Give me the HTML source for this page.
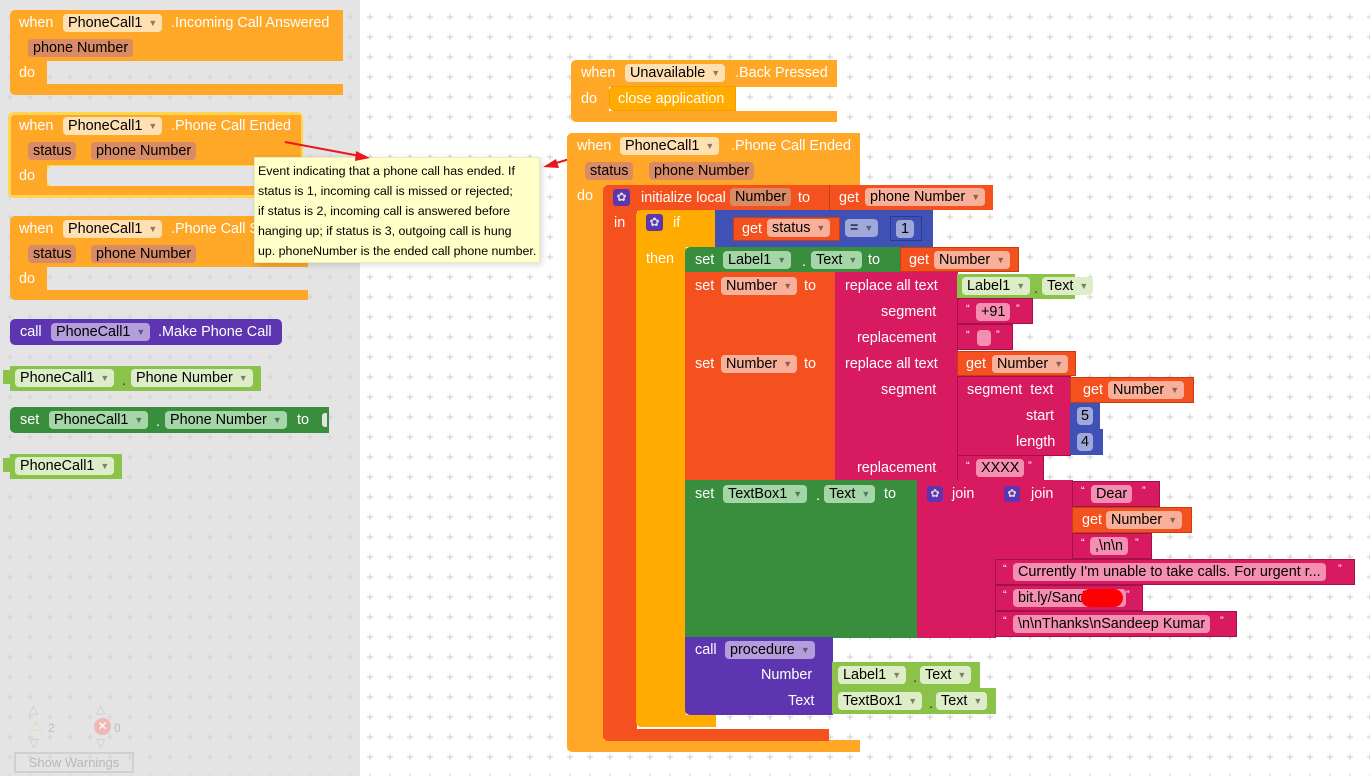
<!DOCTYPE html>
<html><head><meta charset="utf-8">
<style>
*{margin:0;padding:0}
body{width:1370px;height:776px;overflow:hidden;position:relative;background:#fff;font-family:"Liberation Sans",sans-serif}
.b{position:absolute;box-sizing:border-box}
.t{position:absolute;color:#fff;font-size:14.4px;line-height:18px;white-space:nowrap}
.p{position:absolute;height:18px;line-height:18px;border-radius:4px;padding:0 5px;color:#000;font-size:14.4px;white-space:nowrap}
.a{font-size:9px;opacity:.45;margin-left:6px;vertical-align:1px}
.q{position:absolute;color:#fff;font-size:11px}
</style></head><body>
<svg width="1370" height="776" style="position:absolute;left:0;top:0">
<defs>
<pattern id="g" x="7" y="14" width="20" height="20" patternUnits="userSpaceOnUse"><path d="M-3 0H3M0 -3V3" stroke="#ccc" stroke-width="1" transform="translate(3,3)"/></pattern>
<pattern id="g2" x="7" y="14" width="20" height="20" patternUnits="userSpaceOnUse"><path d="M-3 0H3M0 -3V3" stroke="#d2d2d2" stroke-width="1" transform="translate(3,3)"/></pattern>
</defs>
<rect width="1370" height="776" fill="url(#g)"/>
<rect width="360" height="776" fill="#e4e4e4"/>
<rect width="360" height="776" fill="url(#g2)"/>
</svg>

<!-- LEFT PANEL -->
<div class="b" style="left:10px;top:10px;width:333px;height:51px;background:#ffa726;border-radius:5px 0 0 0"></div>
<div class="b" style="left:10px;top:60px;width:37px;height:25px;background:#ffa726"></div>
<div class="b" style="left:10px;top:84px;width:333px;height:11px;background:#ffa726;border-radius:0 0 0 5px"></div>
<div class="t" style="left:19px;top:14px">when</div>
<div class="p" style="left:63px;top:14px;background:#ffe0b2">PhoneCall1<span class="a">▼</span></div>
<div class="t" style="left:171px;top:14px">.Incoming Call Answered</div>
<div class="p" style="left:28px;top:39px;background:#d98b66">phone Number</div>
<div class="t" style="left:19px;top:64px">do</div>

<div class="b" style="left:8px;top:112px;width:295px;height:86px;border:3px solid #ffd54f;border-radius:6px;background:#ffd54f"></div>
<div class="b" style="left:11px;top:115px;width:290px;height:50px;background:#ffa726;border-radius:4px 0 0 0"></div>
<div class="b" style="left:11px;top:164px;width:36px;height:24px;background:#ffa726"></div>
<div class="b" style="left:47px;top:166px;width:254px;height:20px;background:#e4e4e4;border-radius:6px 0 0 6px"></div>
<div class="b" style="left:11px;top:186px;width:290px;height:9px;background:#ffa726"></div>
<div class="t" style="left:19px;top:117px">when</div>
<div class="p" style="left:63px;top:117px;background:#ffe0b2">PhoneCall1<span class="a">▼</span></div>
<div class="t" style="left:171px;top:117px">.Phone Call Ended</div>
<div class="p" style="left:28px;top:142px;background:#d98b66">status</div>
<div class="p" style="left:91px;top:142px;background:#d98b66">phone Number</div>
<div class="t" style="left:19px;top:167px">do</div>

<div class="b" style="left:10px;top:216px;width:298px;height:51px;background:#ffa726;border-radius:5px 0 0 0"></div>
<div class="b" style="left:10px;top:266px;width:37px;height:25px;background:#ffa726"></div>
<div class="b" style="left:10px;top:290px;width:298px;height:10px;background:#ffa726;border-radius:0 0 0 5px"></div>
<div class="t" style="left:19px;top:220px">when</div>
<div class="p" style="left:63px;top:220px;background:#ffe0b2">PhoneCall1<span class="a">▼</span></div>
<div class="t" style="left:171px;top:220px">.Phone Call S</div>
<div class="p" style="left:28px;top:245px;background:#d98b66">status</div>
<div class="p" style="left:91px;top:245px;background:#d98b66">phone Number</div>
<div class="t" style="left:19px;top:270px">do</div>

<div class="b" style="left:10px;top:319px;width:272px;height:26px;background:#5e35b1;border-radius:5px"></div>
<div class="t" style="left:20px;top:323px">call</div>
<div class="p" style="left:51px;top:323px;background:#b39ddb">PhoneCall1<span class="a">▼</span></div>
<div class="t" style="left:158px;top:323px">.Make Phone Call</div>
<div class="b" style="left:10px;top:366px;width:251px;height:25px;background:#8bc34a"></div>
<div class="b" style="left:3px;top:370px;width:8px;height:14px;background:#8bc34a"></div>
<div class="p" style="left:15px;top:369px;background:#dcedc8">PhoneCall1<span class="a">▼</span></div>
<div class="t" style="left:122px;top:372px;color:#333">.</div>
<div class="p" style="left:131px;top:369px;background:#dcedc8">Phone Number<span class="a">▼</span></div>
<div class="b" style="left:10px;top:407px;width:319px;height:26px;background:#388e3c;border-radius:5px 0 0 5px"></div>
<div class="t" style="left:20px;top:411px">set</div>
<div class="p" style="left:49px;top:411px;background:#a5d6a7">PhoneCall1<span class="a">▼</span></div>
<div class="t" style="left:156px;top:413px">.</div>
<div class="p" style="left:165px;top:411px;background:#a5d6a7">Phone Number<span class="a">▼</span></div>
<div class="t" style="left:297px;top:411px">to</div>
<div class="b" style="left:322px;top:413px;width:5px;height:14px;background:#e4e4e4;border-radius:3px 0 0 3px"></div>
<div class="b" style="left:10px;top:454px;width:112px;height:25px;background:#8bc34a"></div>
<div class="b" style="left:3px;top:458px;width:8px;height:14px;background:#8bc34a"></div>
<div class="p" style="left:15px;top:457px;background:#dcedc8">PhoneCall1<span class="a">▼</span></div>

<div class="t" style="left:29px;top:700px;color:#c8c8c8;font-size:12px">△</div>
<div class="t" style="left:96px;top:700px;color:#c8c8c8;font-size:12px">△</div>
<div class="t" style="left:29px;top:718px;color:#e3dcaa;font-size:15px">⚠</div>
<div class="t" style="left:48px;top:719px;color:#bbb;font-size:12px">2</div>
<div class="b" style="left:94px;top:718px;width:17px;height:17px;border-radius:50%;background:#f0b7b7;color:#fff;font-size:12px;text-align:center;line-height:17px">✕</div>
<div class="t" style="left:114px;top:719px;color:#bbb;font-size:12px">0</div>
<div class="t" style="left:29px;top:734px;color:#c8c8c8;font-size:12px">▽</div>
<div class="t" style="left:96px;top:734px;color:#c8c8c8;font-size:12px">▽</div>
<div class="b" style="left:14px;top:752px;width:120px;height:21px;border:2px solid #d0d0d0;color:#b8b8b8;font-size:13px;text-align:center;line-height:17px">Show Warnings</div>

<div class="b" style="left:254px;top:157px;width:286px;height:106px;background:#ffffc7;border:1px solid #ebebc0;box-shadow:2px 2px 6px rgba(0,0,0,.15);font-size:12.4px;line-height:20px;padding:3px 0 0 3px;color:#000;white-space:nowrap">Event indicating that a phone call has ended. If<br>status is 1, incoming call is missed or rejected;<br>if status is 2, incoming call is answered before<br>hanging up; if status is 3, outgoing call is hung<br>up. phoneNumber is the ended call phone number.</div>

<svg width="1370" height="776" style="position:absolute;left:0;top:0">
<line x1="285" y1="142" x2="360" y2="156" stroke="#e8191e" stroke-width="2"/>
<polygon points="370,158 356,151 355,161" fill="#e8191e"/>
<line x1="596" y1="151" x2="553" y2="164" stroke="#e8191e" stroke-width="2"/>
<polygon points="543,167 556,159 559,168" fill="#e8191e"/>
</svg>

<div class="b" style="left:571px;top:60px;width:266px;height:27px;background:#ffa726;border-radius:5px 0 0 0"></div>
<div class="b" style="left:571px;top:86px;width:38px;height:26px;background:#ffa726"></div>
<div class="b" style="left:571px;top:111px;width:266px;height:11px;background:#ffa726;border-radius:0 0 0 5px"></div>
<div class="b" style="left:609px;top:86px;width:127px;height:25px;background:#ffab00;border-radius:5px 0 0 5px;border:1px solid #f39c00"></div>
<div class="t" style="left:581px;top:64px">when</div>
<div class="p" style="left:625px;top:64px;background:#ffe0b2">Unavailable<span class="a">▼</span></div>
<div class="t" style="left:735px;top:64px">.Back Pressed</div>
<div class="t" style="left:581px;top:90px">do</div>
<div class="t" style="left:618px;top:90px">close application</div>

<div class="b" style="left:567px;top:133px;width:293px;height:53px;background:#ffa726;border-radius:5px 0 0 0"></div>
<div class="b" style="left:567px;top:185px;width:37px;height:556px;background:#ffa726"></div>
<div class="b" style="left:567px;top:740px;width:293px;height:12px;background:#ffa726;border-radius:0 0 0 5px"></div>
<div class="t" style="left:577px;top:137px">when</div>
<div class="p" style="left:620px;top:137px;background:#ffe0b2">PhoneCall1<span class="a">▼</span></div>
<div class="t" style="left:731px;top:137px">.Phone Call Ended</div>
<div class="p" style="left:585px;top:162px;background:#d98b66">status</div>
<div class="p" style="left:649px;top:162px;background:#d98b66">phone Number</div>
<div class="t" style="left:577px;top:187px">do</div>

<div class="b" style="left:603px;top:185px;width:226px;height:26px;background:#f4511e;border-radius:5px 0 0 0"></div>
<div class="b" style="left:603px;top:210px;width:34px;height:520px;background:#f4511e"></div>
<div class="b" style="left:603px;top:729px;width:226px;height:12px;background:#f4511e;border-radius:0 0 0 5px"></div>
<div class="b" style="left:613px;top:189px;width:17px;height:17px;background:#5e35b1;border-radius:3px;color:#ddd;font-size:12px;text-align:center;line-height:17px">✿</div>
<div class="t" style="left:641px;top:189px">initialize local</div>
<div class="p" style="left:730px;top:188px;background:#d98b66">Number</div>
<div class="t" style="left:798px;top:189px">to</div>
<div class="t" style="left:614px;top:214px">in</div>
<div class="b" style="left:829px;top:185px;width:164px;height:25px;background:#f4511e;border-left:1px solid #c73d12"></div>
<div class="t" style="left:839px;top:189px">get</div>
<div class="p" style="left:865px;top:188px;background:#f9b09a">phone Number<span class="a">▼</span></div>

<div class="b" style="left:636px;top:210px;width:80px;height:37px;background:#ffab00;border-radius:5px 0 0 0"></div>
<div class="b" style="left:636px;top:246px;width:50px;height:470px;background:#ffab00"></div>
<div class="b" style="left:636px;top:715px;width:80px;height:12px;background:#ffab00;border-radius:0 0 0 5px"></div>
<div class="b" style="left:646px;top:214px;width:17px;height:17px;background:#5e35b1;border-radius:3px;color:#ddd;font-size:12px;text-align:center;line-height:17px">✿</div>
<div class="t" style="left:673px;top:214px">if</div>
<div class="t" style="left:646px;top:250px">then</div>
<div class="b" style="left:715px;top:210px;width:218px;height:37px;background:#3f51b5"></div>
<div class="b" style="left:733px;top:217px;width:107px;height:24px;background:#f4511e;border:1px solid #c73d12"></div>
<div class="t" style="left:742px;top:220px">get</div>
<div class="p" style="left:767px;top:219px;background:#f9b09a">status<span class="a">▼</span></div>
<div class="p" style="left:845px;top:219px;background:#9fa8da">=<span class="a">▼</span></div>
<div class="b" style="left:890px;top:216px;width:32px;height:25px;border:1px solid #2c3a8a;background:#3f51b5"></div>
<div class="p" style="left:896px;top:220px;background:#9fa8da">1</div>

<div class="b" style="left:685px;top:247px;width:216px;height:26px;background:#388e3c;border-radius:5px 0 0 0"></div>
<div class="t" style="left:695px;top:251px">set</div>
<div class="p" style="left:723px;top:251px;background:#a5d6a7">Label1<span class="a">▼</span></div>
<div class="t" style="left:802px;top:253px">.</div>
<div class="p" style="left:811px;top:251px;background:#a5d6a7">Text<span class="a">▼</span></div>
<div class="t" style="left:868px;top:251px">to</div>
<div class="b" style="left:900px;top:247px;width:119px;height:25px;background:#f4511e;border:1px solid #c73d12"></div>
<div class="t" style="left:909px;top:251px">get</div>
<div class="p" style="left:934px;top:251px;background:#f9b09a">Number<span class="a">▼</span></div>

<div class="b" style="left:685px;top:272px;width:151px;height:79px;background:#f4511e;border-bottom:1px solid #c73d12"></div>
<div class="t" style="left:695px;top:277px">set</div>
<div class="p" style="left:721px;top:277px;background:#f9b09a">Number<span class="a">▼</span></div>
<div class="t" style="left:804px;top:277px">to</div>
<div class="b" style="left:835px;top:272px;width:123px;height:79px;background:#d81b60;border-bottom:1px solid #a3104a"></div>
<div class="t" style="left:845px;top:277px">replace all text</div>
<div class="t" style="left:881px;top:303px">segment</div>
<div class="t" style="left:857px;top:329px">replacement</div>
<div class="b" style="left:957px;top:274px;width:118px;height:25px;background:#8bc34a"></div>
<div class="p" style="left:962px;top:277px;background:#dcedc8">Label1<span class="a">▼</span></div>
<div class="t" style="left:1034px;top:280px;color:#333">.</div>
<div class="p" style="left:1042px;top:277px;background:#dcedc8">Text<span class="a">▼</span></div>
<div class="b" style="left:957px;top:298px;width:76px;height:26px;background:#d81b60;border:1px solid #a3104a"></div>
<div class="q" style="left:966px;top:303px">“</div>
<div class="p" style="left:976px;top:303px;background:#f48fb1">+91</div>
<div class="q" style="left:1016px;top:303px">”</div>
<div class="b" style="left:957px;top:324px;width:56px;height:26px;background:#d81b60;border:1px solid #a3104a"></div>
<div class="q" style="left:966px;top:329px">“</div>
<div class="b" style="left:977px;top:330px;width:14px;height:16px;background:#f48fb1;border-radius:4px"></div>
<div class="q" style="left:996px;top:329px">”</div>

<div class="b" style="left:685px;top:350px;width:151px;height:131px;background:#f4511e"></div>
<div class="t" style="left:695px;top:355px">set</div>
<div class="p" style="left:721px;top:355px;background:#f9b09a">Number<span class="a">▼</span></div>
<div class="t" style="left:804px;top:355px">to</div>
<div class="b" style="left:835px;top:350px;width:123px;height:131px;background:#d81b60"></div>
<div class="t" style="left:845px;top:355px">replace all text</div>
<div class="t" style="left:881px;top:381px">segment</div>
<div class="t" style="left:857px;top:459px">replacement</div>
<div class="b" style="left:957px;top:351px;width:119px;height:25px;background:#f4511e;border:1px solid #c73d12"></div>
<div class="t" style="left:966px;top:355px">get</div>
<div class="p" style="left:992px;top:355px;background:#f9b09a">Number<span class="a">▼</span></div>
<div class="b" style="left:957px;top:376px;width:114px;height:80px;background:#d81b60;border:1px solid #a3104a"></div>
<div class="t" style="left:967px;top:381px">segment&nbsp;&nbsp;text</div>
<div class="t" style="left:1026px;top:407px">start</div>
<div class="t" style="left:1016px;top:433px">length</div>
<div class="b" style="left:1070px;top:377px;width:124px;height:26px;background:#f4511e;border:1px solid #c73d12"></div>
<div class="t" style="left:1083px;top:381px">get</div>
<div class="p" style="left:1108px;top:381px;background:#f9b09a">Number<span class="a">▼</span></div>
<div class="b" style="left:1070px;top:403px;width:30px;height:26px;background:#3f51b5"></div>
<div class="p" style="left:1077px;top:407px;background:#9fa8da;padding:0 4px">5</div>
<div class="b" style="left:1070px;top:429px;width:33px;height:26px;background:#3f51b5"></div>
<div class="p" style="left:1077px;top:433px;background:#9fa8da;padding:0 4px">4</div>
<div class="b" style="left:957px;top:455px;width:87px;height:26px;background:#d81b60;border:1px solid #a3104a"></div>
<div class="q" style="left:966px;top:460px">“</div>
<div class="p" style="left:976px;top:459px;background:#f48fb1">XXXX</div>
<div class="q" style="left:1028px;top:460px">”</div>

<div class="b" style="left:685px;top:480px;width:233px;height:158px;background:#388e3c"></div>
<div class="t" style="left:695px;top:485px">set</div>
<div class="p" style="left:723px;top:485px;background:#a5d6a7">TextBox1<span class="a">▼</span></div>
<div class="t" style="left:816px;top:487px">.</div>
<div class="p" style="left:824px;top:485px;background:#a5d6a7">Text<span class="a">▼</span></div>
<div class="t" style="left:884px;top:485px">to</div>
<div class="b" style="left:917px;top:480px;width:79px;height:158px;background:#d81b60;border-right:1px solid #a3104a"></div>
<div class="b" style="left:927px;top:486px;width:16px;height:16px;background:#5e35b1;border-radius:3px;color:#ddd;font-size:11px;text-align:center;line-height:16px">✿</div>
<div class="t" style="left:952px;top:485px">join</div>
<div class="b" style="left:995px;top:480px;width:78px;height:80px;background:#d81b60;border-right:1px solid #a3104a"></div>
<div class="b" style="left:1004px;top:486px;width:16px;height:16px;background:#5e35b1;border-radius:3px;color:#ddd;font-size:11px;text-align:center;line-height:16px">✿</div>
<div class="t" style="left:1031px;top:485px">join</div>
<div class="b" style="left:1072px;top:481px;width:88px;height:26px;background:#d81b60;border:1px solid #a3104a"></div>
<div class="q" style="left:1081px;top:485px">“</div>
<div class="p" style="left:1091px;top:485px;background:#f48fb1">Dear</div>
<div class="q" style="left:1142px;top:485px">”</div>
<div class="b" style="left:1072px;top:507px;width:120px;height:26px;background:#f4511e;border:1px solid #c73d12"></div>
<div class="t" style="left:1082px;top:511px">get</div>
<div class="p" style="left:1106px;top:511px;background:#f9b09a">Number<span class="a">▼</span></div>
<div class="b" style="left:1072px;top:533px;width:80px;height:26px;background:#d81b60;border:1px solid #a3104a"></div>
<div class="q" style="left:1081px;top:537px">“</div>
<div class="p" style="left:1090px;top:537px;background:#f48fb1">,\n\n</div>
<div class="q" style="left:1135px;top:537px">”</div>
<div class="b" style="left:995px;top:559px;width:360px;height:26px;background:#d81b60;border:1px solid #a3104a"></div>
<div class="q" style="left:1003px;top:563px">“</div>
<div class="p" style="left:1013px;top:563px;background:#f48fb1">Currently I'm unable to take calls. For urgent r...</div>
<div class="q" style="left:1338px;top:563px">”</div>
<div class="b" style="left:995px;top:585px;width:148px;height:26px;background:#d81b60;border:1px solid #a3104a"></div>
<div class="q" style="left:1003px;top:589px">“</div>
<div class="p" style="left:1013px;top:589px;background:#f48fb1">bit.ly/Sand&nbsp;&nbsp;&nbsp;&nbsp;&nbsp;&nbsp;&nbsp;&nbsp;&nbsp;</div>
<div class="b" style="left:1081px;top:589px;width:42px;height:18px;background:#ff0000;border-radius:9px"></div>
<div class="q" style="left:1126px;top:589px">”</div>
<div class="b" style="left:995px;top:611px;width:242px;height:26px;background:#d81b60;border:1px solid #a3104a"></div>
<div class="q" style="left:1003px;top:615px">“</div>
<div class="p" style="left:1013px;top:615px;background:#f48fb1">\n\nThanks\nSandeep Kumar</div>
<div class="q" style="left:1220px;top:615px">”</div>

<div class="b" style="left:685px;top:637px;width:148px;height:78px;background:#5e35b1;border-radius:0 0 0 5px"></div>
<div class="t" style="left:695px;top:641px">call</div>
<div class="p" style="left:725px;top:641px;background:#b39ddb">procedure<span class="a">▼</span></div>
<div class="t" style="left:761px;top:666px">Number</div>
<div class="t" style="left:788px;top:692px">Text</div>
<div class="b" style="left:832px;top:662px;width:148px;height:26px;background:#8bc34a"></div>
<div class="p" style="left:838px;top:666px;background:#dcedc8">Label1<span class="a">▼</span></div>
<div class="t" style="left:913px;top:669px;color:#333">.</div>
<div class="p" style="left:920px;top:666px;background:#dcedc8">Text<span class="a">▼</span></div>
<div class="b" style="left:832px;top:688px;width:164px;height:26px;background:#8bc34a"></div>
<div class="p" style="left:838px;top:692px;background:#dcedc8">TextBox1<span class="a">▼</span></div>
<div class="t" style="left:929px;top:695px;color:#333">.</div>
<div class="p" style="left:936px;top:692px;background:#dcedc8">Text<span class="a">▼</span></div>
</body></html>
